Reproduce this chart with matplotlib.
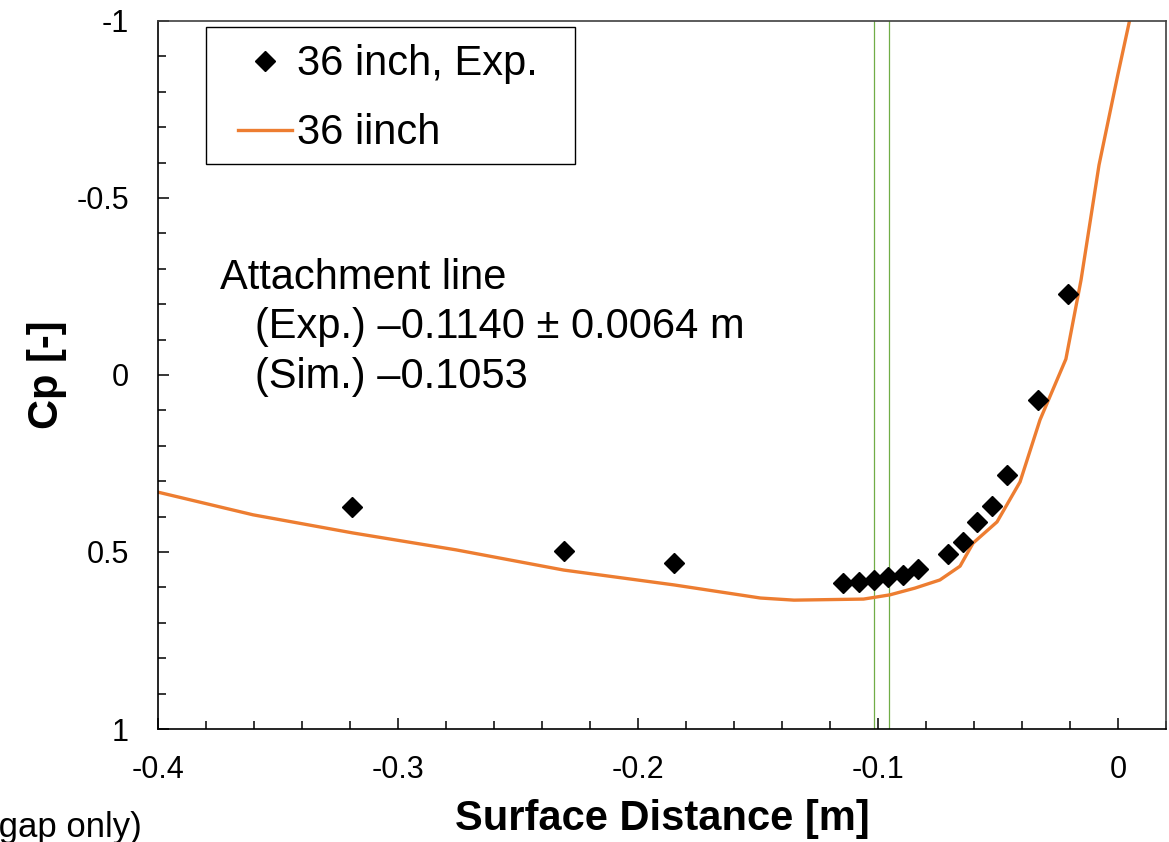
import numpy as np
import matplotlib
matplotlib.use("Agg")
import matplotlib.pyplot as plt
from matplotlib.patches import Rectangle
from matplotlib.ticker import MultipleLocator

plt.rcParams['font.family'] = ['Liberation Sans', 'DejaVu Sans']

# experiment, 36 inch
exp_x = [-0.319, -0.231, -0.185, -0.1145, -0.1079, -0.1015, -0.0957, -0.0895, -0.0832,
         -0.0707, -0.0647, -0.0586, -0.0524, -0.0461, -0.0333, -0.0208]
exp_cp = [0.373, 0.497, 0.531, 0.587, 0.584, 0.579, 0.570, 0.565, 0.549,
          0.507, 0.471, 0.414, 0.369, 0.282, 0.072, -0.228]

# simulation, 36 inch
sim_x = [-0.4, -0.3604, -0.319, -0.2758, -0.231, -0.185, -0.149, -0.135, -0.106, -0.095,
         -0.0846, -0.0742, -0.0658, -0.0604, -0.0504, -0.0408, -0.0325, -0.0217, -0.0154,
         -0.0079, 0.0, 0.0048]
sim_cp = [0.331, 0.395, 0.446, 0.494, 0.551, 0.593, 0.630, 0.636, 0.633, 0.621,
          0.602, 0.579, 0.540, 0.475, 0.415, 0.302, 0.127, -0.045, -0.268,
          -0.593, -0.850, -1.0]

# attachment line markers
attach_x = [-0.1017, -0.0955]

fig = plt.figure(figsize=(11.69, 8.42), dpi=100)
ax = fig.add_axes([0.1352, 0.1342, 0.8622, 0.8409])

for xv in attach_x:
    ax.axvline(xv, color='#70AD47', lw=0.9, zorder=1)

ax.plot(sim_x, sim_cp, color='#ED7D31', lw=2.4, label='36 iinch', zorder=2)
ax.plot(exp_x, exp_cp, ls='none', marker='D', ms=10.5, color='black',
        label='36 inch, Exp.', zorder=3)

ax.set_xlim(-0.4, 0.02)
ax.set_ylim(1, -1)
ax.xaxis.set_minor_locator(MultipleLocator(0.02))
ax.yaxis.set_minor_locator(MultipleLocator(0.1))
ax.set_xticks([-0.4, -0.3, -0.2, -0.1, 0])
ax.set_xticklabels(['-0.4', '-0.3', '-0.2', '-0.1', '0'])
ax.set_yticks([-1, -0.5, 0, 0.5, 1])
ax.set_yticklabels(['-1', '-0.5', '0', '0.5', '1'])
ax.tick_params(which='both', direction='in', labelsize=22, width=1.1)
ax.tick_params(which='major', length=8)
ax.tick_params(which='minor', length=6)
ax.tick_params(axis='x', pad=19)
ax.tick_params(axis='y', pad=21)
for s in ax.spines.values():
    s.set_linewidth(1.2)
    s.set_color('black')
ax.spines['top'].set_color('#404040')
ax.spines['right'].set_color('#404040')

ax.set_xlabel('Surface Distance [m]', fontsize=30, fontweight='bold', labelpad=10)
ax.set_ylabel('Cp [-]', fontsize=30, fontweight='bold')
ax.yaxis.set_label_coords(-0.090, 0.5)

# legend box drawn separately so the padding can follow the original
ax.add_patch(Rectangle((0.0476, 0.798), 0.3661, 0.1935, transform=ax.transAxes,
                       fill=True, facecolor='white', edgecolor='black', lw=1.0, zorder=4))
handles, labels = ax.get_legend_handles_labels()
leg = ax.legend(handles[::-1], labels[::-1], loc='upper left',
                bbox_to_anchor=(0.067, 0.9845), fontsize=30, frameon=False,
                handlelength=1.3, handletextpad=0.12, labelspacing=0.69,
                borderpad=0.3, borderaxespad=0)
leg.set_zorder(5)

ax.text(0.061, 0.665,
        'Attachment line\n   (Exp.) \u20130.1140 \u00b1 0.0064 m\n   (Sim.) \u20130.1053',
        transform=ax.transAxes, fontsize=30, va='top', ha='left', linespacing=1.3)

# caption text that runs off the left edge in the original
fig.text(142 / 1169, 1 - 837 / 842, '(gap only)', fontsize=25, ha='right', va='baseline')

fig.savefig('out.png', dpi=100)
